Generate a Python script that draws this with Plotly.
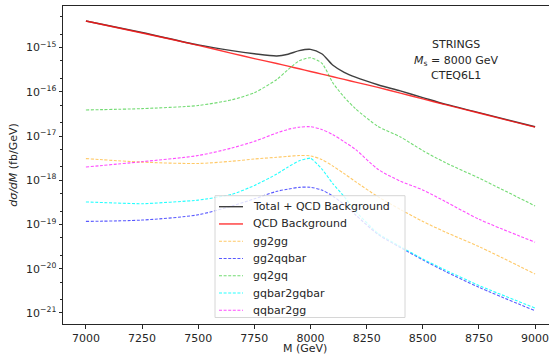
import numpy as np
import plotly.graph_objects as go

# Invariant mass (GeV)
mass = [7000, 7250, 7500, 7650, 7750, 7850, 7900, 7950, 8000, 8050,
        8100, 8150, 8200, 8300, 8400, 8500, 8600, 8750, 9000]

# log10 of dsigma/dM (fb/GeV)
total_log = [-14.40, -14.66, -14.94, -15.07, -15.14, -15.19, -15.15, -15.07, -15.04, -15.14,
             -15.40, -15.56, -15.67, -15.84, -15.98, -16.13, -16.28, -16.47, -16.79]
qcd_log = [-14.40, -14.67, -14.95, -15.13, -15.25, -15.36, -15.42, -15.48, -15.54, -15.60,
           -15.66, -15.72, -15.78, -15.90, -16.03, -16.16, -16.29, -16.48, -16.80]
gg2gg_log = [-17.51, -17.59, -17.62, -17.57, -17.52, -17.48, -17.46, -17.44, -17.45, -17.53,
             -17.68, -17.85, -18.03, -18.37, -18.66, -18.93, -19.17, -19.50, -20.12]
gg2qqbar_log = [-18.93, -18.90, -18.78, -18.58, -18.42, -18.25, -18.20, -18.16, -18.16, -18.22,
                -18.36, -18.55, -18.78, -19.22, -19.52, -19.80, -20.06, -20.42, -20.95]
gq2gq_log = [-16.41, -16.38, -16.31, -16.18, -16.02, -15.72, -15.50, -15.30, -15.23, -15.35,
             -15.80, -16.12, -16.38, -16.78, -17.02, -17.33, -17.60, -17.95, -18.58]
gqbar2gqbar_log = [-18.49, -18.53, -18.45, -18.32, -18.12, -17.86, -17.70, -17.56, -17.50, -17.74,
                   -18.08, -18.37, -18.70, -19.20, -19.50, -19.78, -20.03, -20.38, -20.89]
qqbar2gg_log = [-17.70, -17.58, -17.44, -17.27, -17.12, -16.93, -16.85, -16.80, -16.79, -16.85,
                -16.97, -17.13, -17.30, -17.75, -18.02, -18.22, -18.48, -18.88, -19.40]

y_tick_exps = [-21, -20, -19, -18, -17, -16, -15]
x_ticks = [7000, 7250, 7500, 7750, 8000, 8250, 8500, 8750, 9000]

series_names = ["Total + QCD Background", "QCD Background", "gg2gg", "gg2qqbar",
                "gq2gq", "gqbar2gqbar", "qqbar2gg"]
series_logs = [total_log, qcd_log, gg2gg_log, gg2qqbar_log, gq2gq_log,
               gqbar2gqbar_log, qqbar2gg_log]
series_colors = ["rgba(30,30,30,0.85)", "rgba(255,20,20,0.85)", "rgba(255,165,0,0.6)",
                 "rgba(0,0,255,0.65)", "rgba(40,200,40,0.65)", "rgba(0,255,255,0.85)",
                 "rgba(255,0,255,0.7)"]
series_dash = ["solid", "solid"] + ["3px,1.6px"] * 5
series_width = [1.4, 1.4] + [1.1] * 5
series_smooth = [0.8, 0.8, 0.8, 0.8, 0.7, 0.4, 0.8]

W, H = 549, 356
L, R, T, B = 63, 0, 6, 31.5
PW, PH = W - L - R, H - T - B


def px_x(px):
    return (px - L) / PW


def px_y(py):
    return (H - B - py) / PH


fig = go.Figure()
for name, logs, color, dash, w, sm in zip(series_names, series_logs, series_colors,
                                          series_dash, series_width, series_smooth):
    fig.add_trace(go.Scatter(
        x=mass, y=np.power(10.0, np.array(logs)), mode="lines", name=name,
        line=dict(color=color, dash=dash, width=w, shape="spline", smoothing=sm),
        showlegend=False, hoverinfo="skip",
    ))

font_family = "DejaVu Sans"
txt_color = "#262626"
fig.update_layout(
    template="none",
    width=W, height=H,
    margin=dict(l=L, r=R, t=T, b=B, pad=0),
    paper_bgcolor="white", plot_bgcolor="white",
    font=dict(family=font_family, size=11, color=txt_color),
    showlegend=False,
    xaxis=dict(
        range=[6898, 9062], tickvals=x_ticks, ticktext=[str(v) for v in x_ticks],
        showgrid=False, zeroline=False, showline=True, linecolor=txt_color, linewidth=1,
        mirror=True, ticks="outside", ticklen=3.5, tickcolor=txt_color, tickwidth=1,
        automargin=False, ticklabeloverflow="allow",
        tickfont=dict(size=11, color=txt_color, family=font_family),
    ),
    yaxis=dict(
        type="log", range=[-21.25, -14.06],
        tickvals=[10.0 ** e for e in y_tick_exps],
        ticktext=["10<sup>\u2212%d</sup>" % (-e) for e in y_tick_exps],
        showgrid=False, zeroline=False, showline=True, linecolor=txt_color, linewidth=1,
        ticks="outside", ticklen=3.5, tickcolor=txt_color, tickwidth=1,
        minor=dict(ticks="outside", ticklen=2, tickcolor=txt_color, showgrid=False),
        automargin=False,
        tickfont=dict(size=11, color=txt_color, family=font_family),
        title=dict(text="<i>d\u03c3/dM</i> (fb/GeV)", standoff=6,
                   font=dict(size=11, color=txt_color, family=font_family)),
    ),
)

# x-axis title
fig.add_annotation(x=px_x(305), xref="paper",
                   y=px_y(349), yref="paper", text="M (GeV)", showarrow=False,
                   xanchor="center", yanchor="middle", borderpad=0,
                   font=dict(size=11, color=txt_color, family=font_family))

# in-plot text block
annot = [("STRINGS", 45), ("<i>M</i><sub>s</sub> = 8000 GeV", 61), ("CTEQ6L1", 76)]
for txt, ypx in annot:
    fig.add_annotation(
        x=px_x(456), xref="paper", y=px_y(ypx), yref="paper",
        text=txt, showarrow=False, xanchor="center", yanchor="middle",
        font=dict(size=11, color=txt_color, family=font_family),
    )

# legend box (semi-transparent, like matplotlib's)
fig.add_shape(type="rect", xref="paper", yref="paper",
              x0=px_x(215), x1=px_x(405), y0=px_y(318), y1=px_y(196),
              fillcolor="rgba(255,255,255,0.8)", line=dict(color="#d6d6d6", width=1),
              layer="above")
row0, step = 207.0, 17.3
for i, (name, color, dash, w) in enumerate(zip(series_names, series_colors,
                                                series_dash, series_width)):
    yy = px_y(row0 + i * step)
    fig.add_shape(type="line", xref="paper", yref="paper",
                  x0=px_x(219), x1=px_x(243), y0=yy, y1=yy,
                  line=dict(color=color, dash=dash, width=w), layer="above")
    fig.add_annotation(x=px_x(251), xref="paper", y=yy, yref="paper", text=name,
                       showarrow=False, xanchor="left", yanchor="middle",
                       font=dict(size=11, color=txt_color, family=font_family))

fig.write_html("out.html",
               config={"displayModeBar": False},
               post_script="document.body.style.margin='0px';"
                           "document.body.style.padding='0px';")
